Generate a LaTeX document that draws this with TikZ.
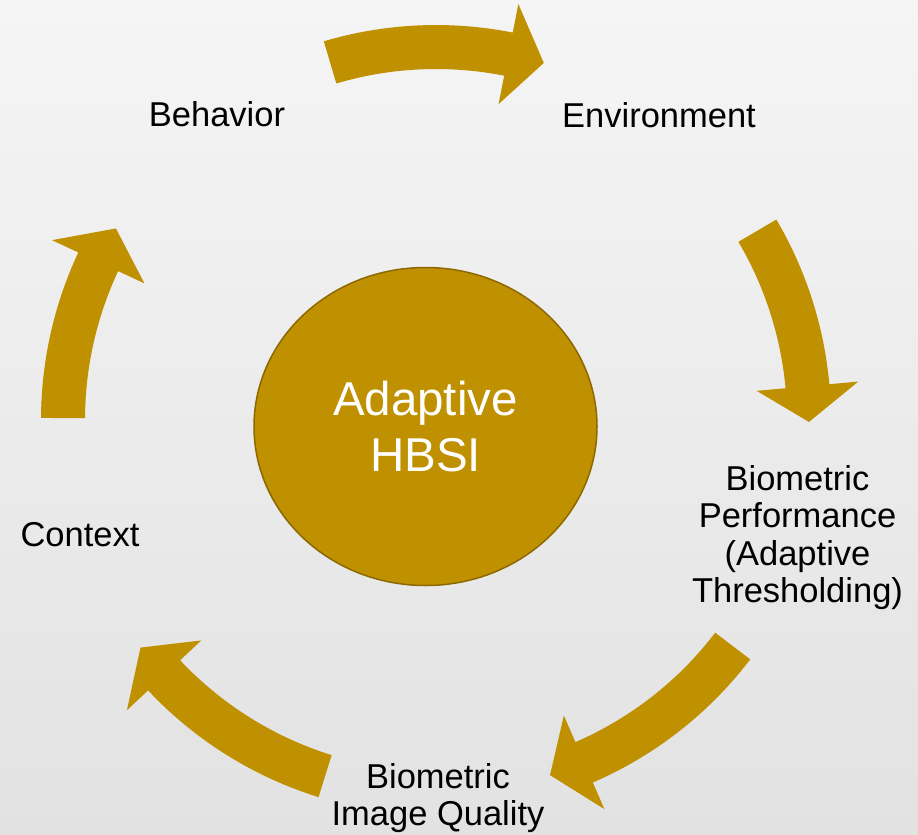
\documentclass[tikz,border=0pt]{standalone}
\usepackage{fontspec}
\setmainfont{Liberation Sans}
\usetikzlibrary{shapes.geometric}
\definecolor{gold}{RGB}{191,144,0}
\definecolor{golddark}{RGB}{140,105,0}
\definecolor{bgtop}{RGB}{245,245,245}
\definecolor{bgbot}{RGB}{226,226,226}
\begin{document}
\begin{tikzpicture}[x=1pt,y=-1pt,
  lbl/.style={font=\fontsize{34.5}{37.3}\selectfont, inner sep=0pt, align=center, text=black},
  cycarrow/.style={fill=gold, draw=none}]
\fill[top color=bgtop, bottom color=bgbot] (0,0) rectangle (918,835);
\useasboundingbox (0,0) rectangle (918,835);
\node[ellipse, fill=gold, draw=golddark, line width=1.5pt, minimum width=343pt, minimum height=318pt,
      inner sep=0pt, text=white, font=\fontsize{47.5}{56}\selectfont, align=center] (hub) at (425.5,426.5) {Adaptive\\HBSI};
\begin{scope}[shift={(436,420)}, yscale=-1]
\foreach \a/\b/\t in {106.5/78.8/73.2, 30.5/5.2/-0.3, -37.3/-66.6/-72.2, -107.3/-136.8/-142.4, 179.7/154.9/149.1}
  \fill[cycarrow] (\a:395) arc[start angle=\a, end angle=\b, radius=395] -- (\b:424) -- (\t:373) -- (\b:322) -- (\b:351) arc[start angle=\b, end angle=\a, radius=351] -- cycle;
\end{scope}
\node[lbl, anchor=base] (behavior) at (217,126) {Behavior};
\node[lbl, anchor=base] (environment) at (659,127) {Environment};
\node[lbl] (performance) at (797.5,537.5) {Biometric\\Performance\\(Adaptive\\Thresholding)};
\node[lbl] (quality) at (438,798) {Biometric\\Image Quality};
\node[lbl, anchor=base] (context) at (80,546) {Context};
\end{tikzpicture}
\end{document}
